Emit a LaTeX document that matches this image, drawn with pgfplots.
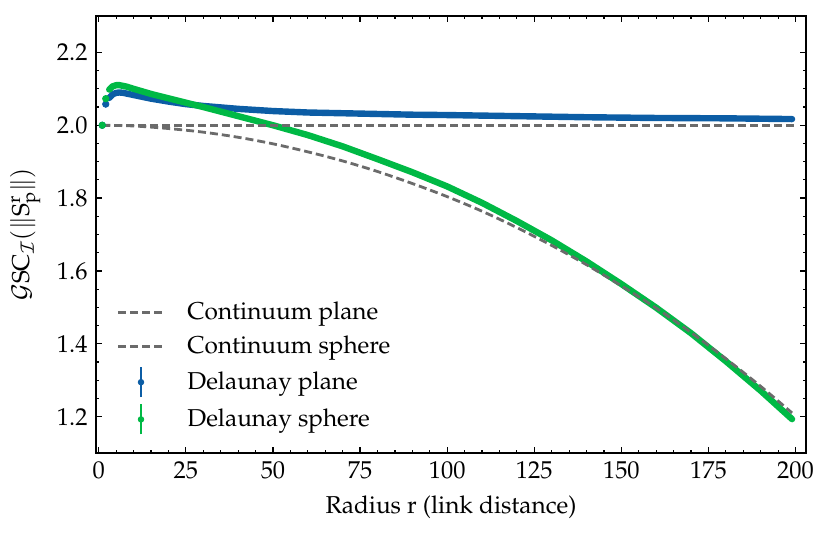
\documentclass[border=0pt]{standalone}
\usepackage[T1]{fontenc}
\usepackage{amsmath}
\usepackage{mathpazo}
\usepackage{pgfplots}
\pgfplotsset{compat=1.18}
\definecolor{cblue}{HTML}{0C5DA5}
\definecolor{cgreen}{HTML}{00B945}
\definecolor{cgray}{HTML}{6B6B6B}

\begin{document}
\fontsize{12.2}{14.5}\selectfont
\begin{tikzpicture}
\begin{axis}[
    scale only axis, width=355pt, height=218.5pt,
    xmin=-0.8, xmax=203, ymin=1.1, ymax=2.3,
    xtick={0,25,50,75,100,125,150,175,200},
    ytick={1.2,1.4,1.6,1.8,2.0,2.2},
    minor x tick num=4, minor y tick num=3,
    tick align=inside, major tick length=3pt, minor tick length=1.6pt,
    every tick/.style={black, line width=0.6pt},
    axis line style={line width=0.8pt},
    yticklabel style={/pgf/number format/.cd, fixed, fixed zerofill, precision=1},
    xlabel={Radius r (link distance)},
    ylabel={$\mathcal{G}\mathrm{SC}_{\mathcal{I}}(\lVert\mathrm{S}_{\mathrm{p}}^{\mathrm{r}}\rVert)$},
    legend style={at={(axis description cs:0.02,0.03)}, anchor=south west,
        draw=none, fill=none, row sep=2.5pt},
    legend cell align=left,
    clip=false,
]

% Delaunay plane
\addplot[cblue, line width=3.2pt, line cap=round, line join=round, forget plot] coordinates {
    (3,2.075) (4,2.085) (5,2.089) (6,2.090) (7,2.089) (8,2.087) (10,2.083)
    (15,2.073) (20,2.065) (25,2.058) (30,2.053) (40,2.045) (50,2.039)
    (60,2.035) (70,2.033) (80,2.031) (90,2.029) (100,2.028) (120,2.025)
    (140,2.022) (160,2.020) (180,2.019) (199,2.017)
};
\addplot[cblue, only marks, mark=*, mark size=1.6pt, forget plot] coordinates {
    (1,2.000) (2,2.058)
};

% Delaunay sphere
\addplot[cgreen, line width=3.2pt, line cap=round, line join=round, forget plot] coordinates {
    (3,2.098) (4,2.107) (5,2.110) (6,2.110) (7,2.108) (8,2.106) (10,2.100)
    (15,2.086) (20,2.074) (25,2.062) (30,2.050) (40,2.025) (50,2.000)
    (60,1.973) (70,1.942) (80,1.907) (90,1.871) (100,1.832) (110,1.787)
    (120,1.737) (130,1.684) (140,1.626) (150,1.564) (160,1.499) (170,1.429)
    (180,1.352) (190,1.271) (199,1.193)
};
\addplot[cgreen, only marks, mark=*, mark size=1.6pt, forget plot] coordinates {
    (1,2.000) (2,2.073)
};

% Continuum curves
\addplot[cgray, line width=1.4pt, dash pattern=on 4pt off 2pt,
    legend image code/.code={\draw[cgray, line width=1.4pt, dash pattern=on 4pt off 2pt] (0pt,0pt) -- (23pt,0pt); \path (32pt,0pt);}] coordinates {
    (1,2.000) (200,2.000)
};
\addlegendentry{Continuum plane}
\addplot[cgray, line width=1.4pt, dash pattern=on 4pt off 2pt, smooth,
    legend image code/.code={\draw[cgray, line width=1.4pt, dash pattern=on 4pt off 2pt] (0pt,0pt) -- (23pt,0pt); \path (32pt,0pt);}] coordinates {
    (1,2.000) (10,1.998) (20,1.991) (30,1.981) (40,1.967) (50,1.949)
    (60,1.927) (70,1.902) (80,1.873) (90,1.840) (100,1.804) (110,1.764)
    (120,1.719) (130,1.670) (140,1.617) (150,1.559) (160,1.498) (170,1.431)
    (180,1.359) (190,1.283) (199,1.210)
};
\addlegendentry{Continuum sphere}

\addlegendimage{legend image code/.code={
    \draw[cblue, line width=1.1pt] (11.5pt,-7.5pt) -- (11.5pt,7.5pt);
    \fill[cblue] (11.5pt,0pt) circle (1.4pt); \path (32pt,0pt);}}
\addlegendentry{Delaunay plane}
\addlegendimage{legend image code/.code={
    \draw[cgreen, line width=1.1pt] (11.5pt,-7.5pt) -- (11.5pt,7.5pt);
    \fill[cgreen] (11.5pt,0pt) circle (1.4pt); \path (32pt,0pt);}}
\addlegendentry{Delaunay sphere}
\end{axis}
\path ([xshift=-48pt,yshift=-42pt]current axis.south west)
    rectangle ([xshift=12.5pt,yshift=8pt]current axis.north east);
\end{tikzpicture}
\end{document}
